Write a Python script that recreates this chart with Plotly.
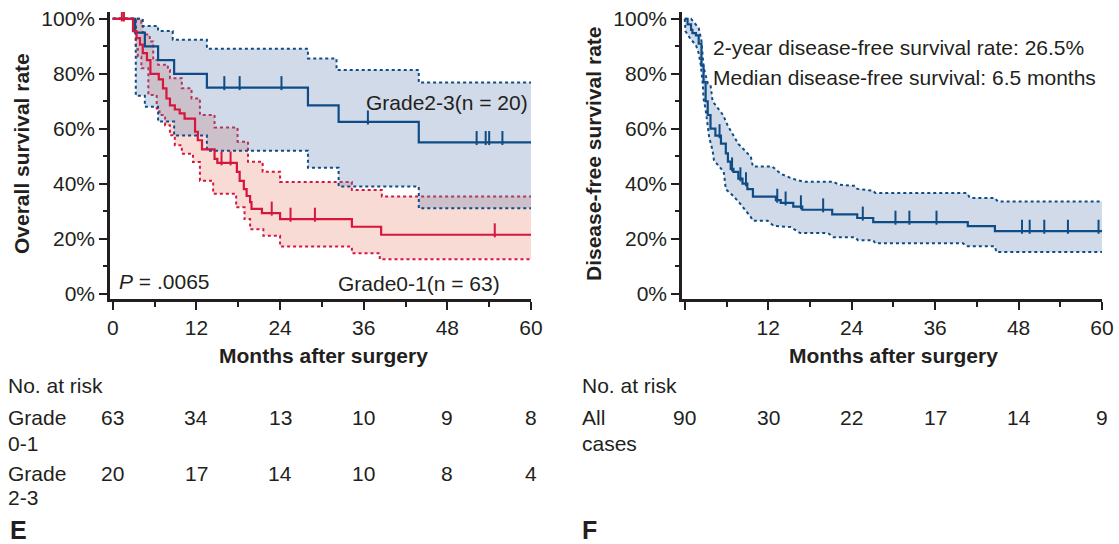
import plotly.graph_objects as go
import numpy as np

# ---------------- Data ----------------
# Panel E: Grade 2-3 (n = 20)
g23_t = [0, 3.2, 4.6, 6.5, 8.8, 13.5, 28.0, 32.4, 43.9, 60]
g23_s = [100, 95, 90, 85, 80, 75, 68.5, 62.5, 55, 55]
g23_censor = [16.0, 18.2, 24.2, 36.6, 52.2, 53.5, 54.0, 55.9]
g23_up_t = [0, 4.3, 6.5, 8.6, 13.5, 28.0, 32.1, 43.9, 60]
g23_up_s = [100, 97.4, 95.6, 92.4, 89.1, 85.6, 81.4, 76.8, 76.8]
g23_lo_t = [0, 3.3, 4.6, 6.5, 8.8, 13.5, 28.0, 32.4, 43.9, 60]
g23_lo_s = [100, 72, 68, 62.6, 57.5, 52, 45.8, 39, 31, 31]

# Panel E: Grade 0-1 (n = 63)
g01_t = [0, 2.9, 3.4, 3.9, 4.3, 4.9, 5.4, 6.6, 7.2, 7.7, 8.2, 8.9, 9.6, 10.3, 11.8,
         12.2, 12.8, 14.6, 15.0, 17.8, 18.2, 18.8, 19.2, 19.7, 19.9, 21.4, 24.0,
         34.3, 38.5, 60]
g01_s = [100, 95.5, 93, 90.6, 87.5, 85, 80, 78, 74.7, 71, 68.5, 67, 65.6, 63.7, 58.9,
         55.8, 52.5, 49, 47.6, 44.3, 41, 38, 35.5, 33.3, 30.8, 29.3, 27.1,
         24.3, 21.4, 21.4]
g01_censor = [1.3, 1.6, 15.6, 16.9, 22.8, 25.5, 29.0, 54.8]
g01_up_t = [0, 4.1, 4.3, 5.3, 5.8, 6.5, 7.9, 8.2, 9.9, 11.3, 12.5, 14.6, 17.9, 19.4,
            21.5, 24.0, 34.3, 38.6, 60]
g01_up_s = [100, 98.5, 94.3, 91.8, 85, 83.3, 81.4, 78.4, 74.7, 71, 65, 60.4, 55.3, 48,
            44.3, 40.6, 37.7, 35.3, 35.3]
g01_lo_t = [0, 3.3, 3.6, 4.1, 5.1, 6.3, 6.7, 7.5, 8.2, 8.9, 9.9, 11.5, 12.5, 14.4,
            17.7, 18.9, 19.7, 21.6, 24.0, 34.3, 38.3, 60]
g01_lo_s = [100, 89, 86.3, 82, 72.3, 67.4, 65, 61.3, 57.6, 54, 50.9, 47.9, 41.1, 36.3,
            31.4, 27.1, 23.4, 21, 17.1, 14.7, 12.5, 12.5]

# Panel F: all cases (n = 90)
dfs_t = [0, 0.4, 0.9, 1.1, 1.6, 2.0, 2.4, 2.7, 3.0, 3.3, 3.7, 4.4, 5.2, 5.9, 6.2, 6.6,
         7.0, 7.7, 8.3, 9.0, 9.8, 13.1, 13.8, 15.6, 16.9, 21.2, 24.8, 27.1, 40.7, 44.6, 60]
dfs_s = [100, 98, 96, 94.8, 94, 91, 83, 77, 70, 65, 60, 57.5, 54.6, 51, 48, 45.4,
         44.3, 41.8, 40, 38, 35.3, 34, 33, 31.6, 30.5, 28.8, 27.5, 26, 24.5, 22.7, 22.7]
dfs_censor = [5.0, 6.8, 8.0, 8.8, 13.3, 14.5, 16.7, 19.9, 25.6, 30.3, 32.3, 36.2,
              48.5, 49.6, 51.7, 55.1, 59.5]
dfs_up_t = [0, 0.9, 2.0, 2.4, 2.7, 3.3, 3.7, 4.0, 5.5, 6.2, 7.7, 9.5, 9.8, 12.6, 13.8,
            15.5, 17.1, 21.4, 22.1, 24.5, 24.8, 27.1, 27.4, 40.6, 41.0, 44.6, 45.0, 60]
dfs_up_s = [100, 100, 96.7, 92, 82.4, 76.6, 76, 70, 65, 61, 54.5, 49.8, 46.2, 46.2, 43.6,
            41.8, 40.7, 40.7, 39.6, 39.2, 38.1, 37.4, 36.6, 36.6, 34.8, 34.8, 33.5, 33.5]
dfs_lo_t = [0, 0.1, 0.9, 1.6, 2.0, 2.3, 2.6, 2.7, 3.0, 3.5, 4.0, 4.2, 5.6, 5.9, 6.9,
            8.0, 9.5, 9.8, 11.9, 12.8, 15.2, 16.6, 20.6, 21.4, 24.5, 24.9, 27.1, 27.4,
            40.0, 40.5, 44.6, 44.8, 60]
dfs_lo_s = [100, 95.5, 92.4, 90.5, 87.5, 83.3, 76, 71, 67, 57, 52, 48.5, 44.3, 38, 35.7,
            32.6, 27.8, 26.5, 26.5, 24.6, 24.2, 22, 22, 20.5, 20.5, 19.4, 19.4, 18.3,
            18.3, 17.2, 17.2, 15.1, 15.1]

# Risk tables
risk_times = [0, 12, 24, 36, 48, 60]
risk_g01 = [63, 34, 13, 10, 9, 8]
risk_g23 = [20, 17, 14, 10, 8, 4]
risk_all = [90, 30, 22, 17, 14, 9]

# tick labels
x_ticklabels_e = ["0", "12", "24", "36", "48", "60"]
x_ticklabels_f = ["", "12", "24", "36", "48", "60"]
y_ticks = [0, 20, 40, 60, 80, 100]
y_ticklabels = ["0%", "20%", "40%", "60%", "80%", "100%"]

# ---------------- Styles ----------------
BLUE = "#0f4c86"
RED = "#d5163d"
BLUE_FILL = "rgba(98,132,178,0.30)"
RED_FILL = "rgb(249,219,214)"
AXIS = "#231f20"
TXT = "#231f20"
FONT = "Liberation Sans, Arial, sans-serif"
FS = 21


def step_value(ts, ss, t):
    idx = np.searchsorted(np.array(ts), t, side="right") - 1
    return ss[max(idx, 0)]


fig = go.Figure()


def band(xa, ya, lo_t, lo_s, up_t, up_s, color, fill, shape):
    fig.add_trace(go.Scatter(x=lo_t, y=lo_s, mode="lines", line=dict(color=color, width=2, dash="dot", shape=shape),
                             xaxis=xa, yaxis=ya, showlegend=False, hoverinfo="skip"))
    fig.add_trace(go.Scatter(x=up_t, y=up_s, mode="lines", line=dict(color=color, width=2, dash="dot", shape=shape),
                             fill="tonexty", fillcolor=fill,
                             xaxis=xa, yaxis=ya, showlegend=False, hoverinfo="skip"))


def curve(xa, ya, ts, ss, cens, color):
    fig.add_trace(go.Scatter(x=ts, y=ss, mode="lines", line=dict(color=color, width=2.2, shape="hv"),
                             xaxis=xa, yaxis=ya, showlegend=False))
    cy = [step_value(ts, ss, c) + 1.6 for c in cens]
    fig.add_trace(go.Scatter(x=cens, y=cy, mode="markers",
                             marker=dict(symbol="line-ns", size=10, line=dict(color=color, width=2)),
                             xaxis=xa, yaxis=ya, showlegend=False))


# Panel E
band("x", "y", g01_lo_t, g01_lo_s, g01_up_t, g01_up_s, RED, RED_FILL, "hv")
band("x", "y", g23_lo_t, g23_lo_s, g23_up_t, g23_up_s, BLUE, BLUE_FILL, "hv")
curve("x", "y", g23_t, g23_s, g23_censor, BLUE)
curve("x", "y", g01_t, g01_s, g01_censor, RED)

# Panel F
band("x2", "y2", dfs_lo_t, dfs_lo_s, dfs_up_t, dfs_up_s, BLUE, BLUE_FILL, "linear")
curve("x2", "y2", dfs_t, dfs_s, dfs_censor, BLUE)

W, H = 1119, 544
ydom = [(H - 299) / H, (H - 12) / H]

xaxis_common = dict(range=[-0.4, 60], tickmode="array", tickvals=risk_times, ticks="outside", ticklen=8,
                    tickwidth=2, tickcolor=AXIS, showline=True, linecolor=AXIS, linewidth=2.5,
                    showgrid=False, zeroline=False, automargin=False,
                    tickfont=dict(family=FONT, size=FS, color=TXT),
                    minor=dict(dtick=6, tick0=0, ticks="outside", ticklen=5, tickwidth=2, tickcolor=AXIS))
yaxis_common = dict(range=[-2, 102.5], tickmode="array", tickvals=y_ticks, ticktext=y_ticklabels,
                    ticks="outside", ticklen=8, tickwidth=2, tickcolor=AXIS, showline=True,
                    linecolor=AXIS, linewidth=2.5, showgrid=False, zeroline=False, automargin=False,
                    tickfont=dict(family=FONT, size=FS, color=TXT),
                    minor=dict(dtick=10, tick0=0, ticks="outside", ticklen=4, tickwidth=2, tickcolor=AXIS))

fig.update_layout(
    template="none",
    width=W, height=H, margin=dict(l=0, r=0, t=0, b=0, pad=0),
    paper_bgcolor="white", plot_bgcolor="white",
    xaxis=dict(domain=[110 / W, 531 / W], anchor="y", ticktext=x_ticklabels_e, **xaxis_common),
    yaxis=dict(domain=ydom, anchor="x", **yaxis_common),
    xaxis2=dict(domain=[682 / W, 1102 / W], anchor="y2", ticktext=x_ticklabels_f, **xaxis_common),
    yaxis2=dict(domain=ydom, anchor="x2", **yaxis_common),
)

ann = []


def txt(x, y, s, size=FS, bold=False, xanchor="left", xref="paper", yanchor="middle", angle=0):
    if bold:
        s = "<b>" + s + "</b>"
    ann.append(dict(x=x, y=y, xref=xref, yref="paper", text=s, showarrow=False,
                    font=dict(family=FONT, size=size, color=TXT), xanchor=xanchor,
                    yanchor=yanchor, textangle=angle))


def py(p):  # pixel y -> paper
    return (H - p) / H


def px(p):
    return p / W


# Axis titles
txt(px(21), py(154), "Overall survival rate", bold=True, xanchor="center", angle=-90)
txt(px(593), py(154), "Disease-free survival rate", bold=True, xanchor="center", angle=-90)
txt(px(323), py(355), "Months after surgery", bold=True, xanchor="center")
txt(px(893), py(355), "Months after surgery", bold=True, xanchor="center")

# In-plot text
txt(px(117), py(281), "<i>P</i> = .0065")
txt(px(364), py(102), "Grade2-3(n = 20)")
txt(px(336), py(284), "Grade0-1(n = 63)")
txt(px(711), py(47), "2-year disease-free survival rate: 26.5%")
txt(px(711), py(77), "Median disease-free survival: 6.5 months")

# Risk tables
txt(px(6), py(385), "No. at risk")
txt(px(6), py(418), "Grade")
txt(px(6), py(443), "0-1")
txt(px(6), py(473), "Grade")
txt(px(6), py(497), "2-3")
for t, a, b in zip(risk_times, risk_g01, risk_g23):
    ann.append(dict(x=t, y=py(418), xref="x", yref="paper", text=str(a), showarrow=False,
                    font=dict(family=FONT, size=FS, color=TXT), xanchor="center", yanchor="middle"))
    ann.append(dict(x=t, y=py(473), xref="x", yref="paper", text=str(b), showarrow=False,
                    font=dict(family=FONT, size=FS, color=TXT), xanchor="center", yanchor="middle"))
txt(px(580), py(385), "No. at risk")
txt(px(580), py(418), "All")
txt(px(580), py(443), "cases")
for t, a in zip(risk_times, risk_all):
    ann.append(dict(x=t, y=py(418), xref="x2", yref="paper", text=str(a), showarrow=False,
                    font=dict(family=FONT, size=FS, color=TXT), xanchor="center", yanchor="middle"))

txt(px(8), py(530), "E", size=25, bold=True)
txt(px(580), py(530), "F", size=25, bold=True)

fig.update_layout(annotations=ann)
fig.write_html("out.html", config={"displayModeBar": False},
               post_script="document.body.style.margin='0px';document.body.style.overflow='hidden';")
